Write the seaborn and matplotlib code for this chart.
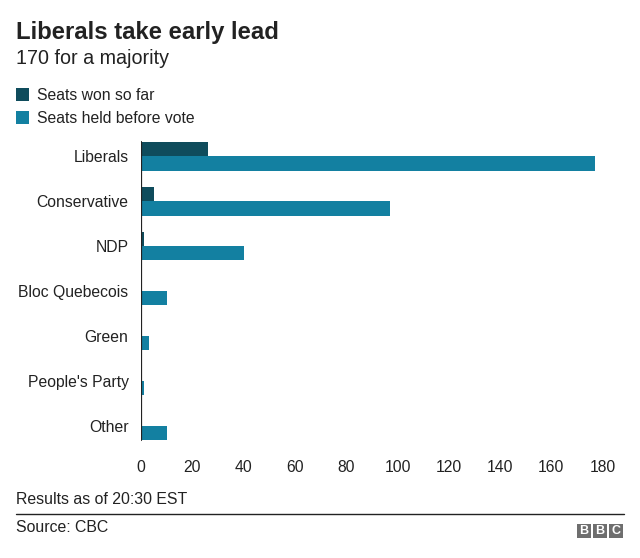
import pandas as pd
import numpy as np
import matplotlib
matplotlib.use("Agg")
import matplotlib.pyplot as plt
from matplotlib.patches import Rectangle
import seaborn as sns

parties = ['Liberals', 'Conservative', 'NDP', 'Bloc Quebecois', 'Green', "People's Party", 'Other']
seats_won = [26, 5, 1, 0, 0, 0, 0]
seats_before = [177, 97, 40, 10, 3, 1, 10]
series_names = ['Seats won so far', 'Seats held before vote']
colors = ['#0f4c5c', '#1380a1']

df = pd.DataFrame({
    'Party': parties * 2,
    'Seats': seats_won + seats_before,
    'Series': [series_names[0]] * len(parties) + [series_names[1]] * len(parties),
})

sns.set_theme(style="white")
plt.rcParams['font.family'] = ['Liberation Sans', 'DejaVu Sans']
txt = '#222222'

fig = plt.figure(figsize=(6.4, 5.58), dpi=100)
ax = fig.add_axes([141 / 640, 1 - 443 / 558, 472 / 640, 303 / 558])

sns.barplot(data=df, x='Seats', y='Party', hue='Series', palette=colors,
            orient='h', width=0.64, gap=0, saturation=1, linewidth=0, ax=ax)

ax.set_xlim(0, 184)
ax.set_ylim(6.38, -0.36)
ax.set_xticks(np.arange(0, 181, 20))
ax.axvline(0, color=txt, lw=1.6, ymin=0.01, ymax=0.995)
for s in ax.spines.values():
    s.set_visible(False)
ax.tick_params(axis='both', length=0, labelsize=11.3, colors=txt)
ax.tick_params(axis='x', pad=12)
ax.tick_params(axis='y', pad=9)
ax.set_xlabel('')
ax.set_ylabel('')

handles, labels = ax.get_legend_handles_labels()
ax.get_legend().remove()
fig.legend(handles, labels, loc='upper left', bbox_to_anchor=(2 / 640, 1 - 74 / 558),
           frameon=False, handlelength=0.85, handleheight=0.85, handletextpad=0.45,
           labelspacing=0.5, fontsize=11.3, labelcolor=txt)

fig.text(16 / 640, 1 - 32 / 558, 'Liberals take early lead', fontsize=17.2, fontweight='bold',
         color=txt, va='center')
fig.text(16 / 640, 1 - 58 / 558, '170 for a majority', fontsize=14.2, color=txt, va='center')

fig.text(16 / 640, 1 - 500 / 558, 'Results as of 20:30 EST', fontsize=11.4, color=txt, va='center')
fig.add_artist(plt.Line2D([16 / 640, 624 / 640], [1 - 514 / 558, 1 - 514 / 558], color=txt, lw=1))
fig.text(16 / 640, 1 - 527 / 558, 'Source: CBC', fontsize=11.4, color=txt, va='center')

# BBC logo blocks
for i, letter in enumerate('BBC'):
    x0 = 577 + i * 16
    fig.add_artist(Rectangle((x0 / 640, 1 - 538 / 558), 14 / 640, 14 / 558,
                             transform=fig.transFigure, facecolor='#6e6e6e', edgecolor='none'))
    fig.text((x0 + 7) / 640, 1 - 531 / 558, letter, fontsize=9, fontweight='bold',
             color='white', ha='center', va='center')

plt.savefig('out.png', dpi=100)
